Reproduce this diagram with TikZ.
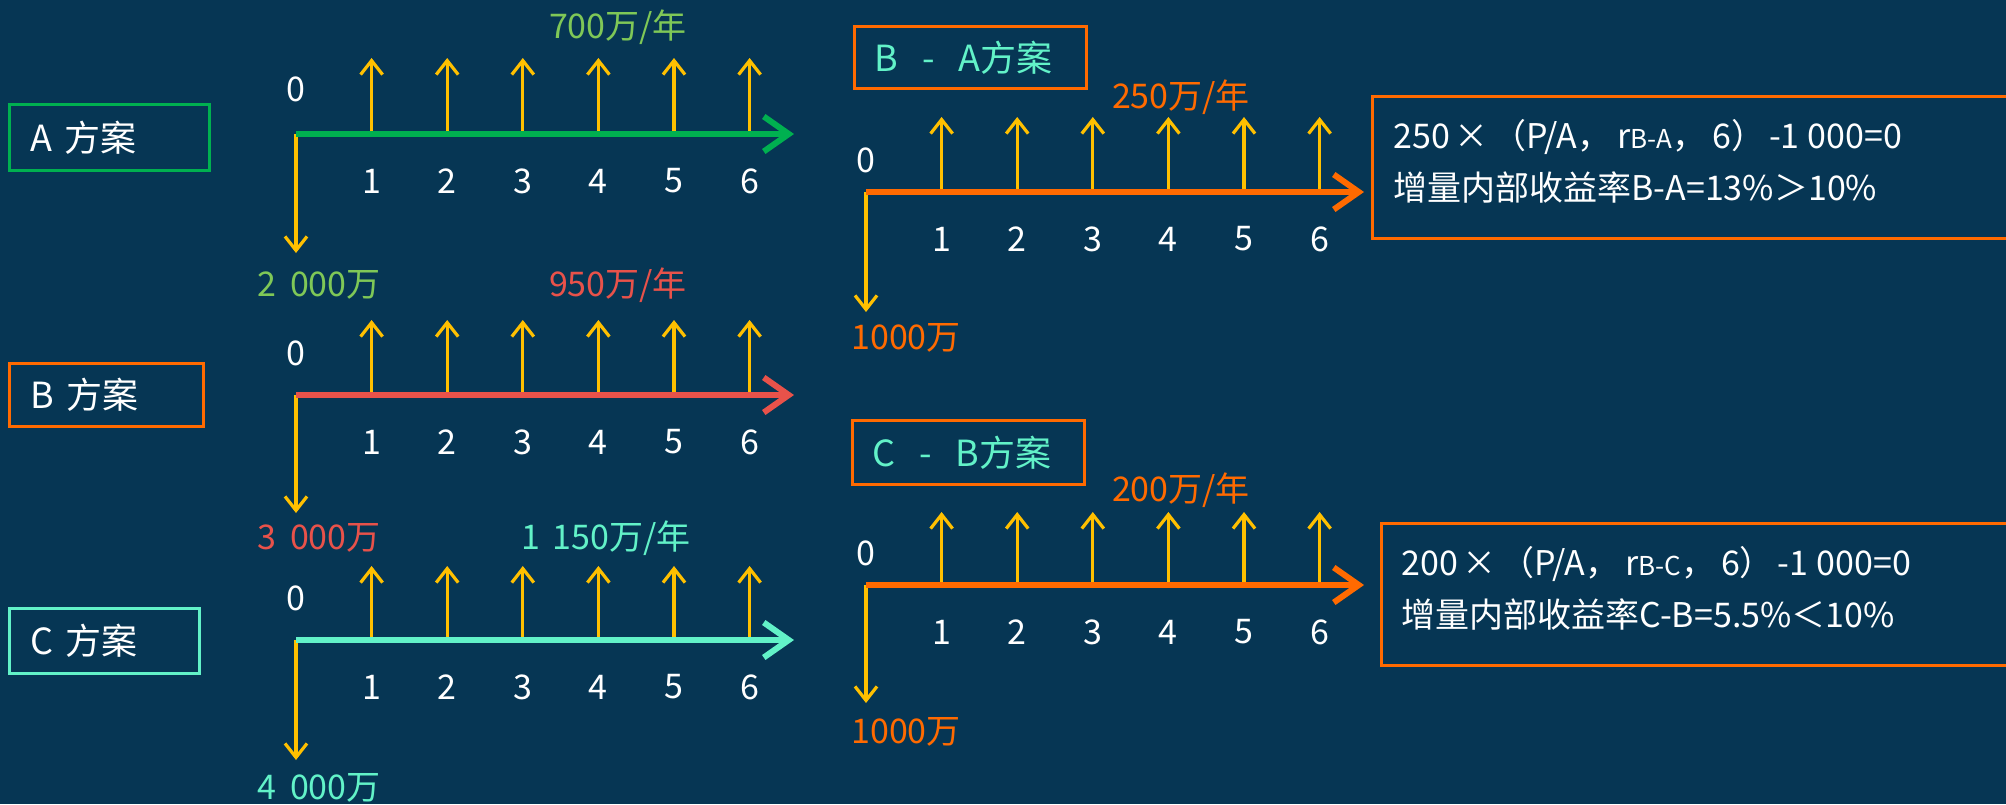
\documentclass[tikz,border=0pt]{standalone}
\usepackage{fontspec}
\setmainfont{Noto Sans CJK SC}
\usetikzlibrary{arrows.meta}
\definecolor{bg}{HTML}{063654}
\definecolor{cgreen}{HTML}{00B050}
\definecolor{clgreen}{HTML}{7FC857}
\definecolor{cred}{HTML}{E8524A}
\definecolor{caqua}{HTML}{62F2C8}
\definecolor{corange}{HTML}{FF6A00}
\definecolor{cyel}{HTML}{FFC000}
\newcommand\tline[9]{%
  \coordinate (#1o) at (#2,#3);
  \foreach \i in {1,...,6}{%
    \coordinate (#1b\i) at ({#2+#4*\i},#3);
    \coordinate (#1t\i) at ({#2+#4*\i},{#3-#6});
    \draw[uparr] (#1b\i) -- (#1t\i);
    \node[num] (#1n\i) at ({#2+#4*\i},{#3+47}) {\i};
  }
  \node[num] (#1z) at (#2,{#3-#8}) {0};
  \coordinate (#1d) at (#2,{#3+#7});
  \draw[uparr] (#1o) -- (#1d);
  \coordinate (#1e) at (#5,#3);
  \draw[axisarr,draw=#9] (#1o) -- (#1e);
}
\begin{document}
\begin{tikzpicture}[x=0.5pt,y=-0.5pt,
  uparr/.style={draw=cyel, line width=1.6pt, -{Straight Barb[length=7pt,width=11pt]}},
  axisarr/.style={line width=3pt, -{Straight Barb[length=12.5pt,width=17.5pt]}},
  num/.style={text=white, font=\fontsize{17}{20}\selectfont, inner sep=0pt},
  lbl/.style={font=\fontsize{17}{20}\selectfont, inner sep=0pt},
  tbox/.style={draw, line width=1.5pt, anchor=north west, align=left, font=\fontsize{18}{20}\selectfont},
  rbox/.style={draw=corange, line width=1.5pt, anchor=north west},
  rtext/.style={anchor=west, align=left, text=white, inner sep=0pt, font=\fontsize{17}{26}\selectfont}]
\fill[bg] (0,0) rectangle (2006,804);
\useasboundingbox (0,0) rectangle (2006,804);

% left boxes
\node[tbox, draw=cgreen, text=white, minimum width=100pt, minimum height=33pt, text width=79pt, inner xsep=10.5pt] (boxA) at (8,103) {A\ 方案};
\node[tbox, draw=corange, text=white, minimum width=97pt, minimum height=31.5pt, text width=76pt, inner xsep=10.5pt] (boxB) at (8,362) {B\ 方案};
\node[tbox, draw=caqua, text=white, minimum width=95pt, minimum height=32.5pt, text width=74pt, inner xsep=10.5pt] (boxC) at (8,607) {C\ 方案};

% timelines
\tline{A}{296}{134}{75.6}{794}{76}{119}{45}{cgreen}
\tline{B}{296}{395}{75.6}{794}{75}{118}{42}{cred}
\tline{C}{296}{640}{75.6}{794}{74}{120}{42}{caqua}
\tline{P}{866}{192}{75.6}{1364}{75}{120}{32}{corange}
\tline{Q}{866}{585}{75.6}{1364}{73}{118}{32}{corange}

% amount labels
\node[lbl, text=clgreen] (Aamt) at (618,27) {700万/年};
\node[lbl, text=clgreen] (Ainv) at (319,285) {2\hspace{7pt}000万};
\node[lbl, text=cred] (Bamt) at (618,285) {950万/年};
\node[lbl, text=cred] (Binv) at (319,538) {3\hspace{7pt}000万};
\node[lbl, text=caqua] (Camt) at (606,538) {1\hspace{6pt}150万/年};
\node[lbl, text=caqua] (Cinv) at (319,788) {4\hspace{7pt}000万};
\node[lbl, text=corange] (Pamt) at (1181,97) {250万/年};
\node[lbl, text=corange] (Pinv) at (906,338) {1000万};
\node[lbl, text=corange] (Qamt) at (1181,490) {200万/年};
\node[lbl, text=corange] (Qinv) at (906,732) {1000万};

% difference boxes
\node[tbox, draw=corange, text=caqua, minimum width=116pt, minimum height=31pt, text width=96pt, inner xsep=10pt] (boxP) at (853,25) {B\hspace{12pt}-\hspace{12pt}A方案};
\node[tbox, draw=corange, text=caqua, minimum width=116pt, minimum height=32pt, text width=96pt, inner xsep=10pt] (boxQ) at (851,419) {C\hspace{12pt}-\hspace{12pt}B方案};

% result boxes
\node[rbox, minimum width=322pt, minimum height=71pt] (resP) at (1371,95) {};
\node[rtext] (resPt) at (1393,161)
  {250\hspace{2pt}×\hspace{2pt}（P/A，\hspace{3pt}r{\fontsize{13}{13}\selectfont B-A}，\hspace{3pt}6）\hspace{2pt}-1\hspace{4pt}000=0\\增量内部收益率B-A=13\%＞10\%};
\node[rbox, minimum width=318pt, minimum height=71pt] (resQ) at (1380,522) {};
\node[rtext] (resQt) at (1401,588)
  {200\hspace{2pt}×\hspace{2pt}（P/A，\hspace{3pt}r{\fontsize{13}{13}\selectfont B-C}，\hspace{3pt}6）\hspace{2pt}-1\hspace{4pt}000=0\\增量内部收益率C-B=5.5\%＜10\%};
\end{tikzpicture}
\end{document}
